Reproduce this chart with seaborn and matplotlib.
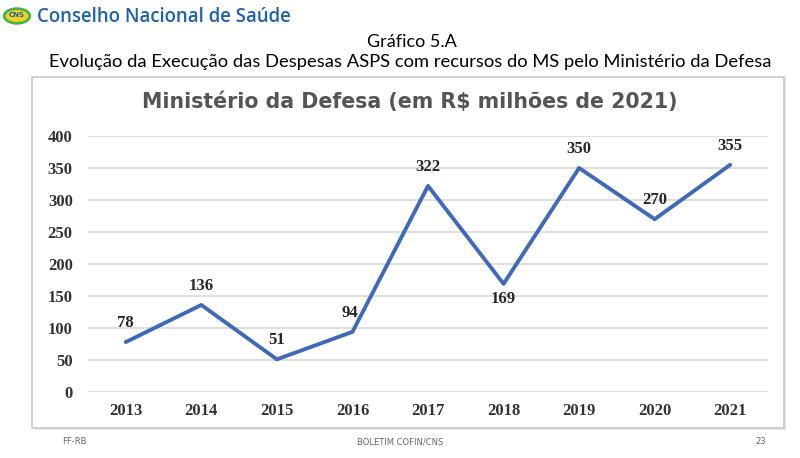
import numpy as np
import pandas as pd
import seaborn as sns
import matplotlib.pyplot as plt
from matplotlib.patches import Rectangle, Circle

# dados do gráfico (R$ milhões de 2021)
anos = ["2013", "2014", "2015", "2016", "2017", "2018", "2019", "2020", "2021"]
valores = [78, 136, 51, 94, 322, 169, 350, 270, 355]
yticks = [0, 50, 100, 150, 200, 250, 300, 350, 400]

df = pd.DataFrame({"ano": anos, "valor": valores})

sns.set_style("white")
plt.rcParams['font.family'] = ['DejaVu Sans']

fig = plt.figure(figsize=(8, 4.58), dpi=100)

# caixa do gráfico com leve sombra
fig.patches.append(Rectangle((34 / 800, 1 - 430 / 458), 752 / 800, 352 / 458,
                             transform=fig.transFigure, facecolor="#e6e6e6",
                             edgecolor="none", zorder=0))
fig.patches.append(Rectangle((32 / 800, 1 - 428 / 458), 752 / 800, 351 / 458,
                             transform=fig.transFigure, facecolor="white",
                             edgecolor="#c8c8c8", linewidth=1.2, zorder=0))

ax = fig.add_axes([88 / 800, 1 - 392 / 458, 680 / 800, 256 / 458])
ax.set_zorder(2)
ax.patch.set_alpha(0)
sns.lineplot(data=df, x="ano", y="valor", color="#4069b8", linewidth=2.8,
             sort=False, ax=ax)

ax.set_xlim(-0.5, len(anos) - 0.5)
ax.set_ylim(0, 400)
ax.set_yticks(yticks)
ax.yaxis.grid(True, color="#d9d9d9", linewidth=1.2)
ax.set_axisbelow(True)
sns.despine(ax=ax, left=True, bottom=True)
ax.set_xlabel("")
ax.set_ylabel("")
ax.tick_params(axis="both", length=0)
ax.tick_params(axis="y", pad=11)
ax.tick_params(axis="x", pad=8)
for lab in ax.get_xticklabels() + ax.get_yticklabels():
    lab.set_fontfamily("Liberation Serif")
    lab.set_fontweight("bold")
    lab.set_fontsize(12)
    lab.set_color("#333333")

# rótulos de dados
offsets = [(0, 8), (0, 8), (0, 8), (-2, 8), (0, 8), (0, -5), (0, 8), (0, 8), (0, 8)]
for i, (v, off) in enumerate(zip(valores, offsets)):
    ax.annotate(str(v), (i, v), xytext=off, textcoords="offset points",
                ha="center", va="bottom" if off[1] > 0 else "top",
                fontfamily="Liberation Serif", fontweight="bold", fontsize=12,
                color="#262626")

# título interno
fig.text(410 / 800, 1 - 102 / 458, "Ministério da Defesa (em R$ milhões de 2021)",
         ha="center", va="center", fontsize=14.8, fontweight="bold", color="#555555")

# títulos do slide
fig.text(412 / 800, 1 - 42 / 458, "Gráfico 5.A", ha="center", va="center",
         fontsize=13, fontfamily="Lato", color="black")
fig.text(410 / 800, 1 - 62 / 458,
         "Evolução da Execução das Despesas ASPS com recursos do MS pelo Ministério da Defesa",
         ha="center", va="center", fontsize=13.2, fontfamily="Lato", color="black")

# cabeçalho
fig.patches.append(Circle((17 / 800, 1 - 16 / 458), 0.016, transform=fig.transFigure,
                          facecolor="#f2d21b", edgecolor="#4caf50", linewidth=2, zorder=1))
fig.text(17 / 800, 1 - 15 / 458, "CNS", ha="center", va="center", fontsize=5,
         fontweight="bold", color="#1f5fa8")
fig.text(37 / 800, 1 - 17 / 458, "Conselho Nacional de Saúde", ha="left", va="center",
         fontsize=13.4, fontfamily="Open Sans", fontweight="semibold", color="#1f62ac")

# rodapé
fig.text(62 / 800, 1 - 442 / 458, "FF-RB", ha="left", va="center", fontsize=6, color="#666666")
fig.text(400 / 800, 1 - 442 / 458, "BOLETIM COFIN/CNS", ha="center", va="center",
         fontsize=6, color="#666666")
fig.text(766 / 800, 1 - 442 / 458, "23", ha="right", va="center", fontsize=6, color="#666666")

fig.savefig("out.png", dpi=100)
